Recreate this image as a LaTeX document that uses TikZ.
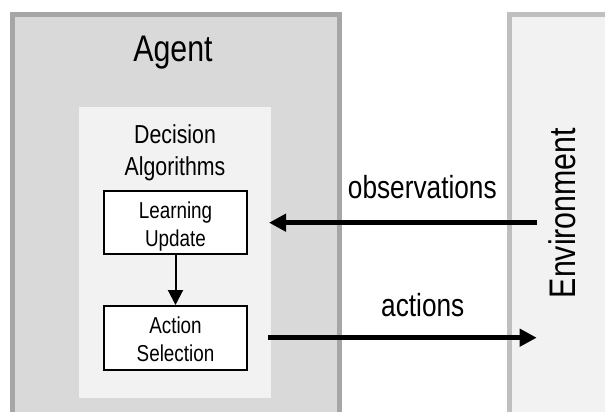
\documentclass[tikz,border=0pt]{standalone}
\usepackage{fontspec}
\setmainfont{Liberation Sans}[FakeStretch=0.82]
\usetikzlibrary{arrows.meta,calc}

\definecolor{agentfill}{HTML}{D9D9D9}
\definecolor{agentline}{HTML}{A6A6A6}
\definecolor{panelfill}{HTML}{F2F2F2}
\definecolor{envline}{HTML}{BFBFBF}

\tikzset{
  stepbox/.style={draw=black, line width=2pt, fill=white, inner sep=0pt},
  boxtext/.style={anchor=base, align=center, text width=140pt, inner sep=0pt,
    font=\fontsize{23}{28}\selectfont},
  flow/.style={line width=5.5pt, -{Triangle[length=17pt,width=17pt]}},
  inner flow/.style={line width=2pt, -{Triangle[length=15pt,width=15pt]}},
  biglabel/.style={anchor=base, inner sep=0pt, font=\fontsize{37}{44}\selectfont},
  flowlabel/.style={anchor=base, inner sep=0pt, font=\fontsize{32}{38}\selectfont},
}

\begin{document}
\begin{tikzpicture}[x=1pt, y=-1pt]
  \useasboundingbox (0,0) rectangle (605,412);
  \clip (0,0) rectangle (605,412);

  % agent and environment frames
  \draw[agentline, fill=agentfill, line width=5pt] (12.5,14.5) rectangle (339.5,440);
  \draw[envline, fill=panelfill, line width=5pt] (509.5,15) rectangle (640,440);

  % decision algorithms panel
  \fill[panelfill] (79,107) rectangle (271,398);

  \node[biglabel] (agent) at (173,61.7) {Agent};
  \node[anchor=base, align=center, text width=180pt, inner sep=0pt,
        font=\fontsize{26}{32}\selectfont] (decalg) at (175,143.3)
        {Decision\\Algorithms};

  % inner steps
  \node[stepbox, minimum width=143pt, minimum height=63pt] (learn) at (175.5,222.5) {};
  \node[boxtext] (learntext) at ([yshift=4.2pt]learn.center) {Learning\\Update};
  \node[stepbox, minimum width=143pt, minimum height=64pt] (act) at (175.5,338) {};
  \node[boxtext] (acttext) at ([yshift=4.7pt]act.center) {Action\\Selection};
  \draw[inner flow] (learn.south) -- (act.north);

  % exchange with the environment
  \coordinate (obsstart) at (536.7,222.7);
  \coordinate (obsend) at (269,222.7);
  \coordinate (actstart) at (268,337.7);
  \coordinate (actend) at (536.7,337.7);
  \draw[flow] (obsstart) -- (obsend);
  \draw[flow] (actstart) -- (actend);
  \node[flowlabel] (obslabel) at (422.3,198.3) {observations};
  \node[flowlabel] (actlabel) at (422.8,316.7) {actions};

  \node[biglabel, rotate=90] (env) at (575,213) {Environment};
\end{tikzpicture}
\end{document}
